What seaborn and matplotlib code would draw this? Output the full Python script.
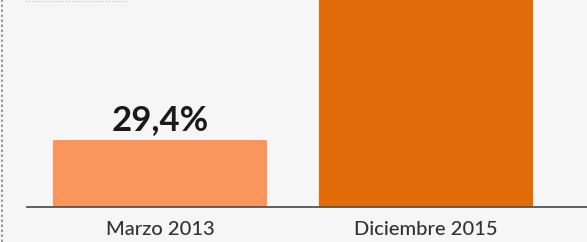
import numpy as np
import matplotlib.pyplot as plt
import seaborn as sns

periodos = ["Marzo 2013", "Diciembre 2015"]
valores = [29.4, 100.0]
etiquetas = ["29,4%", ""]
colores = ["#FA955C", "#E36C0A"]

sns.set_style("white")
plt.rcParams['font.family'] = ['Lato', 'DejaVu Sans']

fig = plt.figure(figsize=(5.87, 2.42), dpi=100)
fig.patch.set_facecolor("#F6F6F6")
ax = fig.add_axes([27 / 587, 1 - 207 / 242, 1 - 27 / 587, 207 / 242])
ax.set_facecolor("#F6F6F6")

sns.barplot(x=periodos, y=valores, hue=periodos, palette=colores,
            width=0.79, legend=False, ax=ax, saturation=1)

# bordes redondeados aproximados
for p, c in zip(ax.patches, colores):
    p.set_edgecolor(c)
    p.set_linewidth(3)
    p.set_joinstyle("round")

for i, (v, t) in enumerate(zip(valores, etiquetas)):
    if t:
        ax.annotate(t, (i, v), xytext=(0, 4.5), textcoords="offset points",
                    ha="center", va="bottom", fontsize=25, fontweight="bold",
                    color="#1a1a1a")

ax.set_xlim(-0.5, 1.605)
ax.set_ylim(0, 93.6)
ax.set_yticks([])
ax.set_xlabel("")
ax.set_ylabel("")
ax.tick_params(axis="x", length=0, pad=10, labelsize=14.5, labelcolor="#333333")
for lbl in ax.get_xticklabels():
    lbl.set_fontweight("medium")
sns.despine(ax=ax, left=True, top=True, right=True)
ax.spines["bottom"].set_color("#555555")
ax.spines["bottom"].set_linewidth(1.3)

# borde punteado a la izquierda y resto de un cuadro arriba
fig.add_artist(plt.Line2D([0.004, 0.004], [0, 1], transform=fig.transFigure,
                          color="#888888", lw=1.2, ls=(0, (1.5, 1.5))))
fig.add_artist(plt.Line2D([25 / 587, 128 / 587], [0.994, 0.994],
                          transform=fig.transFigure, color="#cccccc", lw=0.8,
                          ls=(0, (1.5, 1.5))))

fig.savefig("out.png", dpi=100, facecolor=fig.get_facecolor())
